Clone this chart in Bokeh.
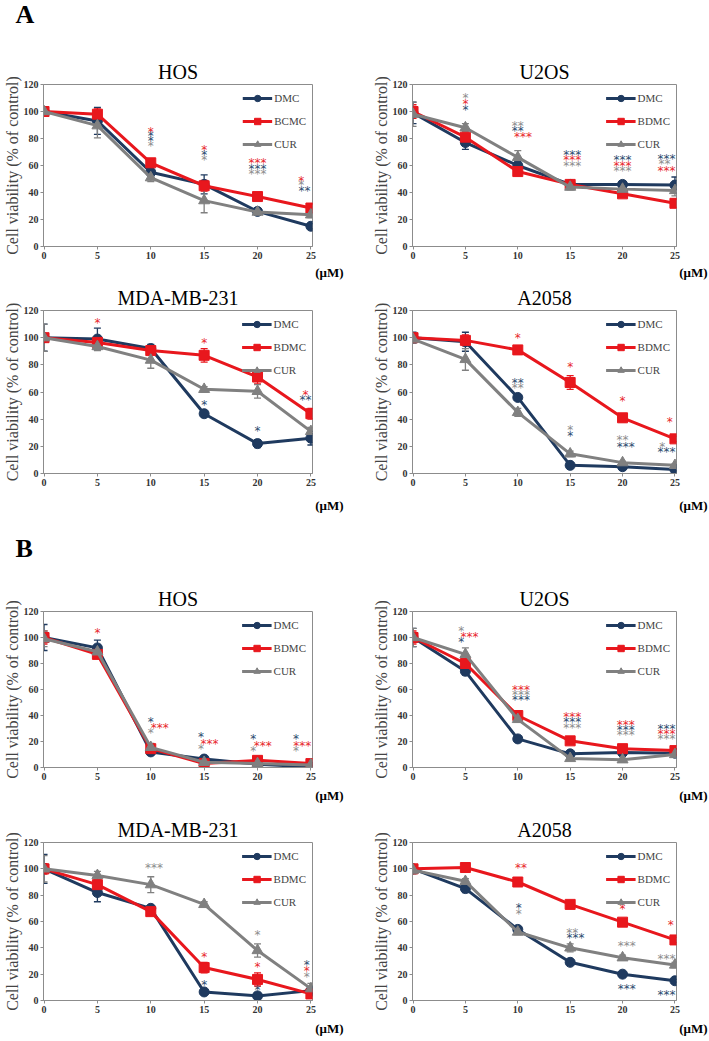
from bokeh.plotting import figure
from bokeh.models import (Range1d, Whisker, ColumnDataSource, Legend, LegendItem,
                          Label, FixedTicker, TeeHead, Title)
from bokeh.layouts import column, row
from bokeh.embed import file_html
from bokeh.resources import INLINE
from bokeh.core.properties import value

# ------------------------------------------------------------------ data
DOSES = [0, 5, 10, 15, 20, 25]
Y_TICKS = [0, 20, 40, 60, 80, 100, 120]
Y_LABEL = "Cell viability (% of control)"
UNIT = "(μM)"
SERIES = ["DMC", "BDMC", "CUR"]

# ---- Panel A : HOS
A_HOS_DMC = [100, 93, 55, 46, 26, 15]
A_HOS_BDMC = [100, 98, 62, 45, 37, 28.5]
A_HOS_CUR = [100, 89.5, 51, 34, 25.5, 23.5]
A_HOS_DMC_ERR = [3, 10, 3, 7, 2, 2]
A_HOS_BDMC_ERR = [2, 4, 3, 4, 2, 3]
A_HOS_CUR_ERR = [3, 9, 3, 9, 2, 2]
A_HOS_LEGEND = ["DMC", "BCMC", "CUR"]
A_HOS_STARS = [(10, 87, "*", "BDMC"), (10, 84, "*", "DMC"), (10, 80.5, "*", "DMC"), (10, 77, "*", "CUR"),
               (15, 74, "*", "BDMC"), (15, 70, "*", "DMC"), (15, 66, "*", "CUR"),
               (20, 64, "***", "BDMC"), (20, 60, "***", "DMC"), (20, 56, "***", "CUR"),
               (24.1, 51, "*", "BDMC"), (24.1, 47.5, "*", "CUR"), (24.4, 43, "**", "DMC")]

# ---- Panel A : U2OS
A_U2OS_DMC = [99, 77, 60, 46, 46, 45.5]
A_U2OS_BDMC = [100, 81, 55.5, 46, 39, 32]
A_U2OS_CUR = [98, 88, 66, 44, 42.5, 41.5]
A_U2OS_DMC_ERR = [8, 5, 3, 2, 2, 6]
A_U2OS_BDMC_ERR = [5, 3, 3, 2, 2, 3]
A_U2OS_CUR_ERR = [9, 3, 5, 2, 2, 4]
A_U2OS_STARS = [(5, 112, "*", "CUR"), (5, 107.5, "*", "BDMC"), (5, 103, "*", "DMC"),
                (10, 91.5, "**", "CUR"), (10, 87.5, "**", "DMC"), (10.5, 83, "***", "BDMC"),
                (15.2, 70, "***", "DMC"), (15.2, 66, "***", "BDMC"), (15.2, 62, "***", "CUR"),
                (20, 66, "***", "DMC"), (20, 62, "***", "BDMC"), (20, 58, "***", "CUR"),
                (24.2, 67, "***", "DMC"), (24.0, 63, "**", "CUR"), (24.2, 58.5, "***", "BDMC")]

# ---- Panel A : MDA-MB-231
A_MDA_DMC = [100, 99, 92, 44, 22, 26]
A_MDA_BDMC = [100, 96.5, 90.5, 87, 71, 44]
A_MDA_CUR = [100, 93.5, 83.5, 62, 60.5, 31]
A_MDA_DMC_ERR = [10, 8, 3, 2, 3, 5]
A_MDA_BDMC_ERR = [2, 3, 3, 5, 5, 4]
A_MDA_CUR_ERR = [10, 3, 6, 2, 5, 3]
A_MDA_STARS = [(5, 113, "*", "BDMC"), (15, 98.5, "*", "BDMC"), (15, 53, "*", "DMC"),
               (20, 33.5, "*", "DMC"), (24.5, 60, "*", "BDMC"), (24.5, 56, "**", "DMC")]

# ---- Panel A : A2058
A_A2058_DMC = [100, 97, 56, 6, 5, 3]
A_A2058_BDMC = [100, 98, 91, 67, 41, 25.5]
A_A2058_CUR = [99, 84, 45, 14.5, 8, 6]
A_A2058_DMC_ERR = [4, 7, 2, 1, 1, 1]
A_A2058_BDMC_ERR = [2, 4, 3, 5, 3, 2]
A_A2058_CUR_ERR = [3, 8, 3, 2, 1, 1]
A_A2058_STARS = [(10, 102, "*", "BDMC"), (10, 69, "**", "DMC"), (10, 65, "**", "CUR"),
                 (15, 80.5, "*", "BDMC"), (15, 34, "*", "CUR"), (15, 30, "*", "DMC"),
                 (20, 55.5, "*", "BDMC"), (20, 27, "**", "CUR"), (20.3, 22, "***", "DMC"),
                 (24.5, 40, "*", "BDMC"), (23.8, 22, "*", "CUR"), (24.2, 18, "***", "DMC")]

# ---- Panel B : HOS
B_HOS_DMC = [100, 92, 12, 6.5, 2.5, 0.5]
B_HOS_BDMC = [100, 87, 14.5, 3, 5.5, 3]
B_HOS_CUR = [99, 89, 15.5, 4, 3, 2]
B_HOS_DMC_ERR = [10, 6, 2, 2, 1, 1]
B_HOS_BDMC_ERR = [5, 3, 2, 1, 1, 1]
B_HOS_CUR_ERR = [6, 5, 3, 1, 1, 1]
B_HOS_STARS = [(5, 105.5, "*", "BDMC"),
               (10, 37.5, "*", "DMC"), (10.85, 33, "***", "BDMC"), (10, 28.5, "*", "CUR"),
               (14.7, 25.5, "*", "DMC"), (15.5, 20.5, "***", "BDMC"), (14.7, 16.5, "*", "CUR"),
               (19.6, 24, "*", "DMC"), (20.5, 19, "***", "BDMC"), (19.6, 15, "*", "CUR"),
               (23.6, 24, "*", "DMC"), (24.2, 19, "***", "BDMC"), (23.6, 15, "*", "CUR")]

# ---- Panel B : U2OS
B_U2OS_DMC = [100, 74, 22, 10.5, 11.5, 11]
B_U2OS_BDMC = [100, 80, 40, 20.5, 14.5, 13]
B_U2OS_CUR = [100, 87, 37, 7, 6, 10]
B_U2OS_DMC_ERR = [7, 3, 2, 1, 1, 1]
B_U2OS_BDMC_ERR = [5, 3, 2, 1, 1, 1]
B_U2OS_CUR_ERR = [7, 5, 2, 1, 1, 1]
B_U2OS_STARS = [(4.6, 107, "*", "CUR"), (5.4, 103, "***", "BDMC"), (4.6, 98.5, "*", "DMC"),
                (10.3, 62, "***", "BDMC"), (10.3, 58, "***", "CUR"), (10.3, 54, "***", "DMC"),
                (15.2, 41, "***", "BDMC"), (15.2, 37, "***", "DMC"), (15.2, 33, "***", "CUR"),
                (20.3, 35, "***", "BDMC"), (20.3, 31, "***", "DMC"), (20.3, 27, "***", "CUR"),
                (24.2, 32, "***", "DMC"), (24.2, 28, "***", "BDMC"), (24.2, 24, "***", "CUR")]

# ---- Panel B : MDA-MB-231
B_MDA_DMC = [100, 82, 70, 6.5, 3.5, 7.5]
B_MDA_BDMC = [100, 88, 67.5, 25, 16, 5]
B_MDA_CUR = [100, 95, 88, 73, 38, 9]
B_MDA_DMC_ERR = [11, 7, 2, 1, 1, 2]
B_MDA_BDMC_ERR = [4, 3, 2, 4, 5, 2]
B_MDA_CUR_ERR = [10, 3, 6, 2, 5, 4]
B_MDA_STARS = [(10.3, 103, "***", "CUR"),
               (15, 35.5, "*", "BDMC"), (15, 14, "*", "DMC"),
               (20, 52, "*", "CUR"), (20, 27.5, "*", "BDMC"), (20, 10.5, "*", "DMC"),
               (24.6, 29, "*", "DMC"), (24.6, 25, "*", "BDMC"), (24.6, 20.5, "*", "CUR")]

# ---- Panel B : A2058
B_A2058_DMC = [100, 85, 54, 29, 20, 15]
B_A2058_BDMC = [100, 101, 90, 73, 59.5, 46]
B_A2058_CUR = [99, 90.5, 52, 40, 32.5, 27]
B_A2058_DMC_ERR = [3, 3, 2, 1, 1, 1]
B_A2058_BDMC_ERR = [2, 2, 2, 2, 2, 2]
B_A2058_CUR_ERR = [3, 2, 2, 3, 2, 2]
B_A2058_STARS = [(10.3, 103, "**", "BDMC"), (10.1, 72.4, "*", "DMC"), (10.1, 68, "*", "CUR"),
                 (15.2, 53.8, "**", "CUR"), (15.5, 49.7, "***", "DMC"),
                 (20, 72, "*", "BDMC"), (20.4, 43.5, "***", "CUR"), (20.4, 10.7, "***", "DMC"),
                 (24.6, 60, "*", "BDMC"), (24.2, 34, "***", "CUR"), (24.2, 6.5, "***", "DMC")]

# ------------------------------------------------------------------ style
COLORS = {"DMC": "#1f3a5f", "BDMC": "#e8171d", "CUR": "#808080"}
STAR_COLORS = {"DMC": "#2c4a6e", "BDMC": "#e8262b", "CUR": "#8c8c8c"}
MARKERS = {"DMC": ("circle", 10), "BDMC": ("square", 10), "CUR": ("triangle", 11)}
SERIF = "Liberation Serif"
FRAME_GRAY = "#8c8c8c"


def make_panel(title, values, errors, labels, stars, left_col, height, b_top, b_bottom, unit_standoff):
    if left_col:
        width, bl, br = 354, 43, 42
    else:
        width, bl, br = 355, 58, 33
    p = figure(width=width, height=height, title=title,
               min_border_left=bl, min_border_right=br,
               min_border_top=b_top, min_border_bottom=b_bottom,
               x_range=Range1d(-0.05, 25.15), y_range=Range1d(0, 120),
               output_backend="svg", toolbar_location=None)
    p.title.text_font = SERIF
    p.title.text_font_size = "20px"
    p.title.text_font_style = "normal"
    p.title.align = "center"
    p.title.text_color = "black"
    p.title.standoff = 4
    p.xgrid.visible = False
    p.ygrid.visible = False
    p.outline_line_color = FRAME_GRAY
    p.xaxis.ticker = FixedTicker(ticks=DOSES)
    p.yaxis.ticker = FixedTicker(ticks=Y_TICKS)
    for ax in (p.xaxis[0], p.yaxis[0]):
        ax.axis_line_color = FRAME_GRAY
        ax.major_tick_line_color = FRAME_GRAY
        ax.minor_tick_line_color = None
        ax.major_tick_out = 3
        ax.major_tick_in = 0
        ax.major_label_text_font = SERIF
        ax.major_label_text_font_size = "10px"
        ax.major_label_text_font_style = "bold"
        ax.major_label_text_color = "#333333"
        ax.major_label_standoff = 2
    p.yaxis.axis_label = Y_LABEL
    p.yaxis.axis_label_text_font = SERIF
    p.yaxis.axis_label_text_font_size = "16px"
    p.yaxis.axis_label_text_font_style = "normal"
    p.yaxis.axis_label_standoff = 0

    items = []
    for name, lab in zip(SERIES, labels):
        vals = values[name]
        err = errors[name]
        src = ColumnDataSource(dict(dose=DOSES, v=vals,
                                    lo=[a - b for a, b in zip(vals, err)],
                                    hi=[a + b for a, b in zip(vals, err)]))
        c = COLORS[name]
        w = Whisker(source=src, base="dose", lower="lo", upper="hi",
                    line_color=c, line_width=1.3,
                    upper_head=TeeHead(size=7, line_color=c, line_width=1.3),
                    lower_head=TeeHead(size=7, line_color=c, line_width=1.3))
        p.add_layout(w)
        ln = p.line(x="dose", y="v", source=src, line_color=c, line_width=3)
        mk, sz = MARKERS[name]
        sc = p.scatter(x="dose", y="v", source=src, marker=mk, size=sz,
                       fill_color=c, line_color=c)
        items.append(LegendItem(label=lab, renderers=[ln, sc]))

    leg = Legend(items=items, location="top_right",
                 background_fill_alpha=0, border_line_color=None,
                 label_text_font=SERIF, label_text_font_size="11px",
                 glyph_width=30, glyph_height=16, label_height=16,
                 spacing=7, padding=2, margin=6, label_standoff=2)
    p.add_layout(leg)

    for sx, sy, txt, ser in stars:
        p.add_layout(Label(x=sx, y=sy, text=txt, text_color=STAR_COLORS[ser],
                           text_font="DejaVu Sans", text_font_size="12px",
                           text_align="center", text_baseline="middle", y_offset=-3))

    unit = Title(text=UNIT, align="right", offset=-31, standoff=unit_standoff,
                 text_font=SERIF, text_font_style="bold", text_font_size="13px",
                 text_color="black")
    p.add_layout(unit, "below")
    return p


def letter_fig(letter, height, y):
    p = figure(width=709, height=height, x_range=Range1d(0, 709), y_range=Range1d(0, height),
               x_axis_type=None, y_axis_type=None, min_border=0,
               output_backend="svg", toolbar_location=None)
    p.xgrid.visible = False
    p.ygrid.visible = False
    p.outline_line_color = None
    p.text(x=[15], y=[y], text=[letter], text_font=value(SERIF), text_font_size="26px",
           text_font_style="bold", text_baseline="middle", text_align="left", text_color="black")
    return p


def vals(d, b, c):
    return {"DMC": d, "BDMC": b, "CUR": c}


pA1 = make_panel("HOS", vals(A_HOS_DMC, A_HOS_BDMC, A_HOS_CUR),
                 vals(A_HOS_DMC_ERR, A_HOS_BDMC_ERR, A_HOS_CUR_ERR),
                 A_HOS_LEGEND, A_HOS_STARS, True, 244, 46, 36, 2)
pA2 = make_panel("U2OS", vals(A_U2OS_DMC, A_U2OS_BDMC, A_U2OS_CUR),
                 vals(A_U2OS_DMC_ERR, A_U2OS_BDMC_ERR, A_U2OS_CUR_ERR),
                 SERIES, A_U2OS_STARS, False, 244, 46, 36, 2)
pA3 = make_panel("MDA-MB-231", vals(A_MDA_DMC, A_MDA_BDMC, A_MDA_CUR),
                 vals(A_MDA_DMC_ERR, A_MDA_BDMC_ERR, A_MDA_CUR_ERR),
                 SERIES, A_MDA_STARS, True, 238, 28, 47, 15)
pA4 = make_panel("A2058", vals(A_A2058_DMC, A_A2058_BDMC, A_A2058_CUR),
                 vals(A_A2058_DMC_ERR, A_A2058_BDMC_ERR, A_A2058_CUR_ERR),
                 SERIES, A_A2058_STARS, False, 238, 28, 47, 15)
pB1 = make_panel("HOS", vals(B_HOS_DMC, B_HOS_BDMC, B_HOS_CUR),
                 vals(B_HOS_DMC_ERR, B_HOS_BDMC_ERR, B_HOS_CUR_ERR),
                 SERIES, B_HOS_STARS, True, 240, 46, 38, 6)
pB2 = make_panel("U2OS", vals(B_U2OS_DMC, B_U2OS_BDMC, B_U2OS_CUR),
                 vals(B_U2OS_DMC_ERR, B_U2OS_BDMC_ERR, B_U2OS_CUR_ERR),
                 SERIES, B_U2OS_STARS, False, 240, 46, 38, 6)
pB3 = make_panel("MDA-MB-231", vals(B_MDA_DMC, B_MDA_BDMC, B_MDA_CUR),
                 vals(B_MDA_DMC_ERR, B_MDA_BDMC_ERR, B_MDA_CUR_ERR),
                 SERIES, B_MDA_STARS, True, 236, 37, 41, 6)
pB4 = make_panel("A2058", vals(B_A2058_DMC, B_A2058_BDMC, B_A2058_CUR),
                 vals(B_A2058_DMC_ERR, B_A2058_BDMC_ERR, B_A2058_CUR_ERR),
                 SERIES, B_A2058_STARS, False, 236, 37, 41, 6)

layout = column(
    letter_fig("A", 38, 24),
    row(pA1, pA2),
    row(pA3, pA4),
    letter_fig("B", 45, 17),
    row(pB1, pB2),
    row(pB3, pB4),
)

open("out.html", "w").write(file_html(layout, INLINE))
